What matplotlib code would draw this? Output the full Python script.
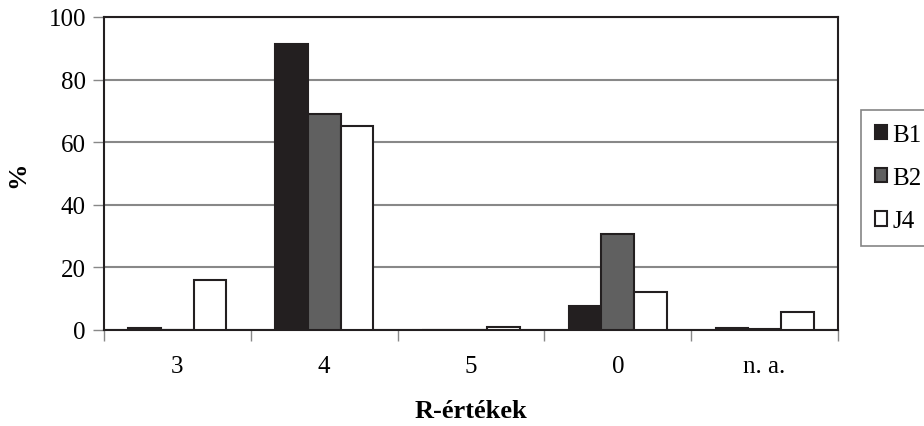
import matplotlib
matplotlib.use("Agg")
import matplotlib.pyplot as plt
import numpy as np

categories = ["3", "4", "5", "0", "n. a."]
series_names = ["B1", "B2", "J4"]
b1 = [0.5, 91.4, 0.0, 7.6, 0.5]
b2 = [0.0, 68.9, 0.0, 30.6, 0.4]
j4 = [15.9, 65.1, 1.0, 12.1, 5.7]
yticks = [0, 20, 40, 60, 80, 100]

plt.rcParams['font.family'] = ['Liberation Serif', 'DejaVu Serif']

W, H = 924, 427
fig = plt.figure(figsize=(W / 100, H / 100), dpi=100)
ax = fig.add_axes([104 / W, (H - 331) / H, (838 - 104) / W, (331 - 18) / H])

colors = ["#231f20", "#606060", "#ffffff"]
x = np.arange(len(categories))
bw = 1 / 4.5
for i, (vals, c, name) in enumerate(zip([b1, b2, j4], colors, series_names)):
    ax.bar(x - bw + i * bw, vals, width=bw, color=c, edgecolor="#231f20",
           linewidth=1.5, label=name, zorder=3)

ax.set_xlim(-0.5, len(categories) - 0.5)
ax.set_ylim(0, 100)
ax.set_yticks(yticks)
ax.yaxis.grid(True, color="#888888", linewidth=1.5, zorder=0)
ax.set_xticks(np.arange(-0.5, len(categories), 1.0))
ax.set_xticklabels([])
ax.set_xticks(x, minor=True)
ax.set_xticklabels(categories, minor=True)
ax.tick_params(axis="x", which="minor", length=0, pad=18, labelsize=18)
ax.tick_params(axis="x", which="major", length=8, width=1, color="#888888", direction="out")
ax.tick_params(axis="y", length=8, width=1, color="#888888", labelsize=18, pad=5)

for s in ["left", "bottom", "top", "right"]:
    ax.spines[s].set_color("#231f20")
    ax.spines[s].set_linewidth(1.5)

ax.set_ylabel("%", fontsize=19, fontweight="bold", labelpad=14)
ax.set_xlabel("R-értékek", fontsize=19, fontweight="bold", labelpad=16)

leg = fig.legend(loc="upper left", bbox_to_anchor=(861 / W, 1 - 111 / H),
                 fontsize=18, frameon=True, fancybox=False, edgecolor="#666666",
                 handlelength=0.5, handleheight=0.5, handletextpad=0.2,
                 labelspacing=0.85, borderpad=0.55, borderaxespad=0)
leg.get_frame().set_linewidth(1.2)

fig.savefig("out.png", dpi=100)
